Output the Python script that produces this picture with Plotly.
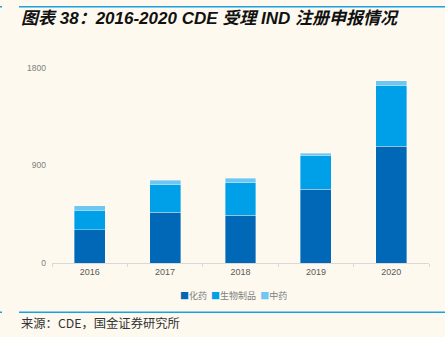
import plotly.graph_objects as go

years = ["2016", "2017", "2018", "2019", "2020"]
series_names = ["化药", "生物制品", "中药"]
chem = [305, 468, 443, 683, 1077]
bio = [184, 255, 298, 308, 560]
tcm = [40, 40, 41, 24, 46]
colors = ["#0068B7", "#00A0E9", "#6EC6F1"]
y_ticks = [0, 900, 1800]

W, H = 445, 337
L, R, T, B = 52, 16, 68, 74
pw, ph = W - L - R, H - T - B

def px(x):
    return (x - L) / pw

def py(y):
    return (H - B - y) / ph

fig = go.Figure()
for name, vals, c in zip(series_names, [chem, bio, tcm], colors):
    fig.add_trace(go.Bar(x=years, y=vals, name=name, marker_color=c,
                         marker_line_color="rgba(255,255,255,0.6)", marker_line_width=0.6,
                         width=0.41, showlegend=False))

legend_html = "  ".join(
    f"<span style='color:{c}'>■</span>{n}" for n, c in zip(series_names, colors))

bg = "#FDF9EF"
fig.update_layout(
    width=W, height=H, barmode="stack",
    paper_bgcolor=bg, plot_bgcolor=bg,
    margin=dict(l=L, r=R, t=T, b=B),
    font=dict(family="Arial, Liberation Sans, Noto Sans CJK SC", size=9, color="#595959"),
    title=dict(text="<b><i>图表 38：2016-2020 CDE 受理 IND 注册申报情况</i></b>",
               x=21 / W, xanchor="left", xref="container",
               y=1 - 18.5 / H, yanchor="middle", yref="container",
               font=dict(family="Liberation Sans, Noto Sans CJK SC", size=17, color="#111111")),
    xaxis=dict(showline=True, linecolor="#D9D9D9", linewidth=1,
               ticks="outside", tickson="boundaries", ticklen=3, tickcolor="#D9D9D9",
               tickfont=dict(size=9, color="#595959", family="Arial, Liberation Sans"),
               showgrid=False, zeroline=False),
    yaxis=dict(range=[0, 1800], tickvals=y_ticks, showgrid=False, zeroline=False,
               showline=False, ticks="", ticklabelstandoff=5,
               tickfont=dict(size=8.5, color="#7F7F7F", family="Arial, Liberation Sans")),
    annotations=[
        dict(text=legend_html, xref="paper", yref="paper", x=px(233), y=py(295),
             xanchor="center", yanchor="middle", showarrow=False,
             font=dict(size=9, color="#808080", family="Noto Sans CJK SC")),
        dict(text="来源：CDE，国金证券研究所", xref="paper", yref="paper",
             x=px(19), y=py(323), xanchor="left", yanchor="middle", showarrow=False,
             font=dict(size=12.3, color="#333333", family="Noto Sans CJK SC")),
    ],
    shapes=[
        dict(type="line", xref="paper", yref="paper", x0=px(19), x1=px(445),
             y0=py(6.7), y1=py(6.7), line=dict(color="#1BA1E2", width=1.5)),
        dict(type="line", xref="paper", yref="paper", x0=px(0), x1=px(2),
             y0=py(6.7), y1=py(6.7), line=dict(color="#1BA1E2", width=1.5)),
        dict(type="line", xref="paper", yref="paper", x0=px(19), x1=px(445),
             y0=py(312.3), y1=py(312.3), line=dict(color="#1BA1E2", width=1.5)),
        dict(type="line", xref="paper", yref="paper", x0=px(0), x1=px(2),
             y0=py(312.3), y1=py(312.3), line=dict(color="#1BA1E2", width=1.5)),
    ],
)

fig.write_html("out.html")
